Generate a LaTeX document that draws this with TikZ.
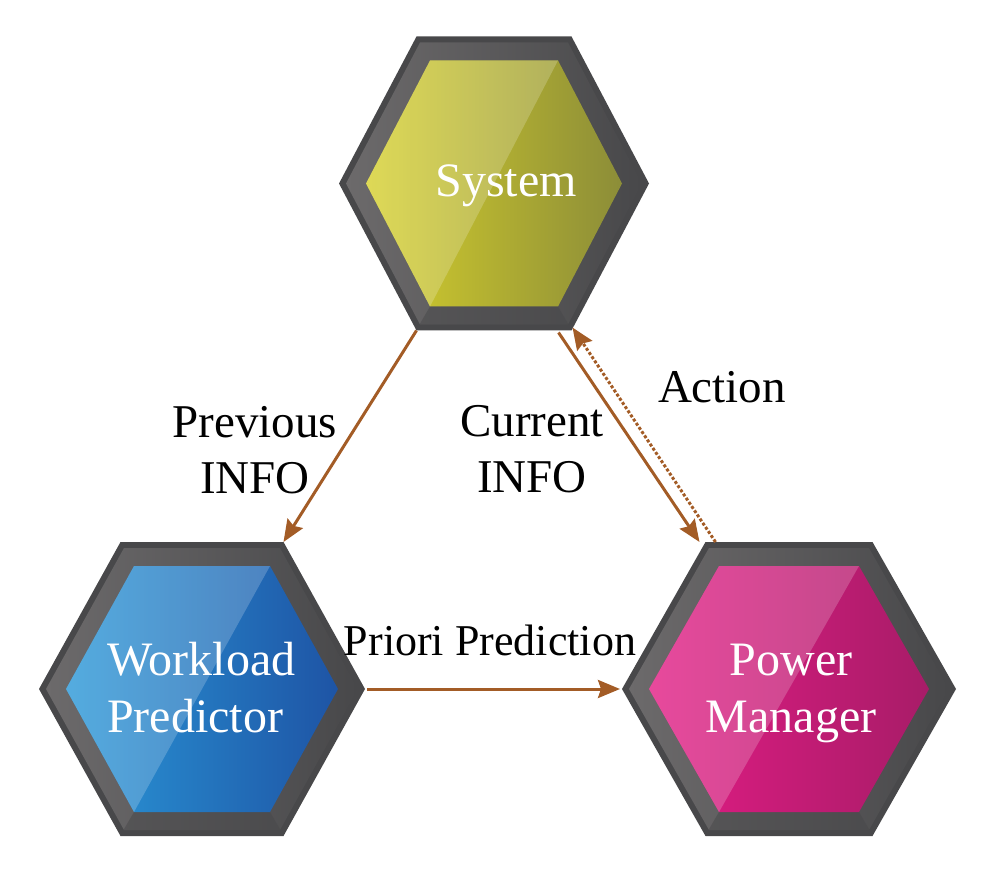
\documentclass[tikz,border=0pt]{standalone}
\usepackage{fontspec}
\setmainfont{Liberation Serif}
\usepackage{tikz}
\usetikzlibrary{arrows.meta, calc}

\definecolor{frameDark}{RGB}{72,72,74}
\definecolor{frameLight}{RGB}{108,106,107}
\definecolor{flow}{RGB}{163,92,38}
\definecolor{sysL}{RGB}{214,208,44}
\definecolor{sysR}{RGB}{140,141,56}
\definecolor{wpL}{RGB}{42,152,216}
\definecolor{wpR}{RGB}{30,84,165}
\definecolor{pmL}{RGB}{226,28,132}
\definecolor{pmR}{RGB}{168,28,104}

% flat-topped hexagon, half width #1, half height #2
\newcommand{\hexpath}[2]{({-(#1)},0) -- ({-(#1)/2},{-(#2)}) -- ({(#1)/2},{-(#2)})
  -- ({#1},0) -- ({(#1)/2},{#2}) -- ({-(#1)/2},{#2}) -- cycle}

% #1 name, #2 centre, #3 half width, #4/#5 left/right colour
\newcommand{\hexcell}[5]{%
  \begin{scope}[shift={#2}]
    \fill[frameDark] \hexpath{#3}{147};
    \shade[left color=frameLight, right color=frameDark] \hexpath{#3-7}{141};
    \fill[frameDark, opacity=0.5] ({-(#3-27)/2},123) -- ({(#3-27)/2},123)
      -- ({(#3-6)/2},141) -- ({-(#3-6)/2},141) -- cycle;
    \shade[left color=#4, right color=#5] \hexpath{#3-27}{123};
    \fill[white, opacity=0.2] ({-(#3-27)},0) -- ({-(#3-27)/2},-123)
      -- ({(#3-27)/2},-123) -- ({-(#3-27)/2},123) -- cycle;
    \coordinate (#1-tl) at ({-(#3)/2},-147);
    \coordinate (#1-tr) at ({(#3)/2},-147);
    \coordinate (#1-bl) at ({-(#3)/2},147);
    \coordinate (#1-br) at ({(#3)/2},147);
    \coordinate (#1-l)  at ({-(#3)},0);
    \coordinate (#1-r)  at ({#3},0);
  \end{scope}}

\begin{document}
\begin{tikzpicture}[x=1pt, y=-1pt,
  intext/.style={text=white, inner sep=0pt, font=\fontsize{48}{57}\selectfont},
  lbl/.style={text=black, inner sep=0pt, align=center, font=\fontsize{47}{56}\selectfont},
  flowarrow/.style={draw=flow, line width=3pt, -{Stealth[length=22pt,width=18pt,inset=3pt]}},
  flowdot/.style={flowarrow, dash pattern=on 3pt off 2pt}
]
\useasboundingbox (0,0) rectangle (1002,874);

\hexcell{sys}{(494,183.5)}{155}{sysL}{sysR}
\hexcell{wp}{(202,689)}{163}{wpL}{wpR}
\hexcell{pm}{(789,689)}{167}{pmL}{pmR}

\node[intext, anchor=base] (sys) at (506,197) {System};
\node[intext, anchor=west, align=left] (wp) at (107,688) {Workload\\Predictor};
\node[intext, align=center] (pm) at (791,693) {Power\\Manager};

\node[lbl] (prev) at (255,450) {Previous\\INFO};
\node[lbl] (curr) at (532,449) {Current\\INFO};
\node[lbl, anchor=base] (act) at (722,403) {Action};
\node[lbl, anchor=base, font=\fontsize{44}{52}\selectfont] (prio) at (490,655) {Priori Prediction};

\draw[flowarrow] (sys-bl) -- (wp-tr);
\draw[flowarrow] ($(sys-br)+(-13,2)$) -- ($(pm-tl)+(-6,0)$);
\draw[flowdot] ($(pm-tl)+(10,0)$) -- ($(sys-br)+(1,-3)$);
\draw[flowarrow] ($(wp-r)+(2,0)$) -- ($(pm-l)+(-2,0)$);
\end{tikzpicture}
\end{document}
